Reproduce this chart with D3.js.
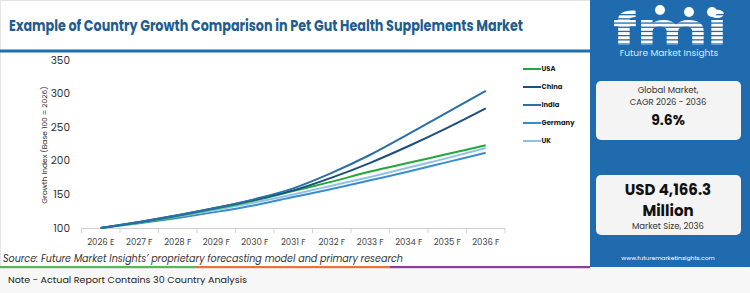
<!DOCTYPE html>
<html><head><meta charset="utf-8">
<script src="https://cdn.jsdelivr.net/npm/d3@7"></script>
<style>body{margin:0;background:#fff}svg{display:block}text{font-family:Poppins,"Open Sans",Roboto,sans-serif}</style>
</head><body><svg id="c" width="750" height="293"></svg>
<script>
const years = ["2026 E","2027 F","2028 F","2029 F","2030 F","2031 F","2032 F","2033 F","2034 F","2035 F","2036 F"];
const seriesNames = ["USA","China","India","Germany","UK"];
const usa     = [100,108,118,129,141,155,169,184,197,210,223];
const china   = [100,109,119,130,142,156,175,197,222,249,278];
const india   = [100,109,119,130,143,159,182,209,240,272,304];
const germany = [100,107,115,124,134,146,158,171,184,198,212];
const uk      = [100,108,117,127,138,150,163,176,190,204,219];
const yTicks  = [100,150,200,250,300,350];
const colors  = {USA:"#22a83a",China:"#1a4f7e",India:"#2a6fa6",Germany:"#3a8ccf",UK:"#90c2e8"};
const values  = {USA:usa,China:china,India:india,Germany:germany,UK:uk};

const svg = d3.select("#c");
svg.append("rect").attr("x",0.5).attr("y",0.5).attr("width",749).attr("height",292).attr("fill","#fff").attr("stroke","#e4e4e4");
svg.append("rect").attr("x",0).attr("y",268).attr("width",750).attr("height",25).attr("fill","#f7f7f7");

svg.append("text").attr("x",9).attr("y",31).attr("fill","#1d5d8f").attr("font-size",15).attr("font-weight",700)
  .attr("textLength",514).attr("lengthAdjust","spacingAndGlyphs")
  .text("Example of Country Growth Comparison in Pet Gut Health Supplements Market");
svg.append("rect").attr("x",0).attr("y",49.5).attr("width",590).attr("height",3).attr("fill","#1f6fad");

const x = d3.scaleBand().domain(years).range([81.5,505]).padding(0);
const y = d3.scaleLinear().domain([100,350]).range([228,60]);
const cx = d => x(d) + x.bandwidth()/2;

svg.append("g").selectAll("text").data(yTicks).join("text")
  .attr("x",70).attr("y",d=>y(d)).attr("dy","0.35em").attr("text-anchor","end")
  .attr("font-size",10.5).attr("fill","#333").text(d=>d);
svg.append("text").attr("transform","translate(47,145) rotate(-90)").attr("text-anchor","middle")
  .attr("font-size",7.5).attr("fill","#333").text("Growth Index (Base 100 = 2026)");

const ax = svg.append("g");
ax.append("line").attr("x1",x.range()[0]).attr("x2",x.range()[1]).attr("y1",228.5).attr("y2",228.5).attr("stroke","#d0d0d0");
const bounds = years.map(d=>x(d)).concat([x.range()[1]]);
ax.selectAll("line.t").data(bounds).join("line").attr("class","t")
  .attr("x1",d=>d).attr("x2",d=>d).attr("y1",228.5).attr("y2",233).attr("stroke","#d0d0d0");
ax.selectAll("text").data(years).join("text")
  .attr("x",d=>cx(d)).attr("y",242).attr("dy","0.35em").attr("text-anchor","middle")
  .attr("font-size",8.5).attr("fill","#444").text(d=>d);

const line = d3.line().x((v,i)=>cx(years[i])).y(v=>y(v)).curve(d3.curveMonotoneX);
const order = ["Germany","UK","USA","China","India"];
svg.append("g").selectAll("path").data(order).join("path")
  .attr("d",k=>line(values[k])).attr("fill","none").attr("stroke",k=>colors[k]).attr("stroke-width",2);

const lg = svg.append("g").selectAll("g").data(seriesNames).join("g")
  .attr("transform",(d,i)=>`translate(523,${69+i*18})`);
lg.append("line").attr("x1",0).attr("x2",18).attr("stroke",d=>colors[d]).attr("stroke-width",2);
lg.append("text").attr("x",18.5).attr("dy","0.35em").attr("font-size",6.8).attr("font-weight",700).attr("fill","#222").text(d=>d);

svg.append("text").attr("x",3).attr("y",262).attr("font-size",9.7).attr("font-style","italic").attr("fill","#333")
  .attr("textLength",400).attr("lengthAdjust","spacingAndGlyphs")
  .text("Source: Future Market Insights’ proprietary forecasting model and primary research");
[["#5ab55a",0,195],["#e8743b",195,390],["#8e3d9c",390,590]].forEach(s=>{
  svg.append("rect").attr("x",s[1]).attr("y",266).attr("width",s[2]-s[1]).attr("height",2.2).attr("fill",s[0]);
});
svg.append("text").attr("x",8).attr("y",283).attr("font-size",9.5).attr("fill","#222")
  .attr("textLength",239).attr("lengthAdjust","spacingAndGlyphs")
  .text("Note - Actual Report Contains 30 Country Analysis");

const p = svg.append("g");
p.append("rect").attr("x",590).attr("y",0).attr("width",160).attr("height",267).attr("fill","#1f6bad");
p.append("text").attr("x",670).attr("y",45).attr("text-anchor","middle").attr("font-family","DejaVu Serif,serif")
  .attr("font-size",44).attr("font-weight",700).attr("fill","#fff").attr("textLength",114).attr("lengthAdjust","spacingAndGlyphs").text("fmi");
for(let yy=14; yy<46; yy+=4.2){
  p.append("rect").attr("x",608).attr("y",yy).attr("width",125).attr("height",1.3).attr("fill","#1f6bad");
}
[[660,10],[689,12],[712,12]].forEach(c=>p.append("circle").attr("cx",c[0]).attr("cy",c[1]).attr("r",5).attr("fill","#fff"));
p.append("text").attr("x",669).attr("y",55.5).attr("text-anchor","middle").attr("font-size",9).attr("fill","#dce9f6")
  .text("Future Market Insights");
p.append("rect").attr("x",596).attr("y",81).attr("width",145).attr("height",59).attr("rx",5).attr("fill","#f4f4f4");
p.append("text").attr("x",668).attr("y",93).attr("text-anchor","middle").attr("font-size",8.5).attr("fill","#333").text("Global Market,");
p.append("text").attr("x",668).attr("y",105).attr("text-anchor","middle").attr("font-size",8.5).attr("fill","#333").text("CAGR 2026 - 2036");
p.append("text").attr("x",668).attr("y",125).attr("text-anchor","middle").attr("font-size",14).attr("font-weight",700).attr("fill","#111").text("9.6%");
p.append("rect").attr("x",596).attr("y",175).attr("width",145).attr("height",60).attr("rx",5).attr("fill","#f4f4f4");
p.append("text").attr("x",668).attr("y",195).attr("text-anchor","middle").attr("font-size",15).attr("font-weight",700).attr("fill","#111").text("USD 4,166.3");
p.append("text").attr("x",668).attr("y",216).attr("text-anchor","middle").attr("font-size",15).attr("font-weight",700).attr("fill","#111").text("Million");
p.append("text").attr("x",668).attr("y",229).attr("text-anchor","middle").attr("font-size",8.5).attr("fill","#333").text("Market Size, 2036");
p.append("text").attr("x",668).attr("y",260).attr("text-anchor","middle").attr("font-size",6).attr("fill","#fff").text("www.futuremarketinsights.com");
</script></body></html>
